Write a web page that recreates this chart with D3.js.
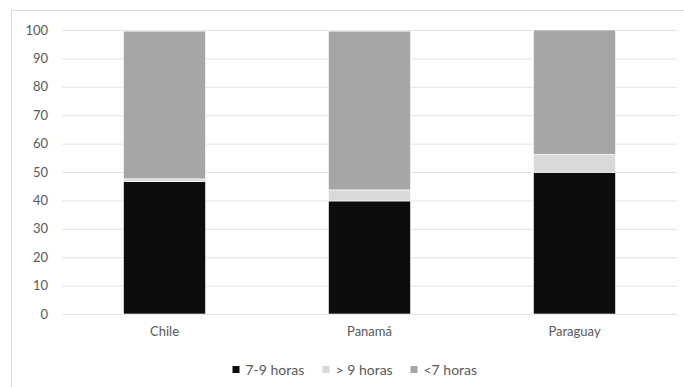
<!DOCTYPE html>
<html><head><meta charset="utf-8">
<script src="https://cdn.jsdelivr.net/npm/d3@7"></script>
<style>body{margin:0;background:#fff}svg{display:block}text{font-family:Lato,"Open Sans",sans-serif;fill:#595959}</style>
</head><body><svg id="c" width="684" height="387"></svg>
<script>
const categories = ["Chile", "Panamá", "Paraguay"];
const seriesNames = ["7-9 horas", "> 9 horas", "<7 horas"];
const s79 = [46.6, 39.8, 49.9];
const sMore9 = [1.0, 3.9, 6.3];
const sLess7 = [52.0, 55.9, 43.8];
const yTicks = [0, 10, 20, 30, 40, 50, 60, 70, 80, 90, 100];
const colors = ["#0d0d0d", "#d9d9d9", "#a6a6a6"];

const svg = d3.select("#c");
svg.append("rect").attr("x", 11.5).attr("y", 10.5).attr("width", 680).attr("height", 380)
  .attr("fill", "none").attr("stroke", "#d9d9d9");

const x = d3.scaleBand().domain(categories).range([62, 677]).paddingInner(0.6).paddingOuter(0.3);
const y = d3.scaleLinear().domain([0, 100]).range([314, 30]);

const yAxis = svg.append("g").attr("transform", "translate(62,0)")
  .call(d3.axisLeft(y).tickValues(yTicks).tickSize(-615).tickPadding(14));
yAxis.select(".domain").remove();
yAxis.selectAll("line").attr("stroke", "#e3e3e3").attr("stroke-width", 1);
yAxis.selectAll("text").style("font-size", "13px").attr("fill", "#595959");

const rows = categories.map((c, i) => ({cat: c, a: s79[i], b: sMore9[i], c: sLess7[i]}));
const stack = d3.stack().keys(["a", "b", "c"])(rows);
svg.append("g").selectAll("g").data(stack).join("g")
  .attr("fill", (d, i) => colors[i])
  .selectAll("rect").data(d => d).join("rect")
  .attr("x", d => x(d.data.cat)).attr("width", x.bandwidth())
  .attr("y", d => y(d[1])).attr("height", d => y(d[0]) - y(d[1]))
  .attr("stroke", "#ffffff").attr("stroke-width", 0.6);

const xAxis = svg.append("g").attr("transform", "translate(0,314)")
  .call(d3.axisBottom(x).tickSize(0).tickPadding(13));
xAxis.select(".domain").remove();
xAxis.selectAll("text").style("font-size", "13px").attr("fill", "#595959");

const legX = [232.5, 322.5, 410.5];
const leg = svg.append("g");
seriesNames.forEach((n, i) => {
  leg.append("rect").attr("x", legX[i]).attr("y", 366).attr("width", 7).attr("height", 7).attr("fill", colors[i]);
  leg.append("text").attr("x", legX[i] + 13).attr("y", 375).style("font-size", "14px").text(n);
});
</script></body></html>
